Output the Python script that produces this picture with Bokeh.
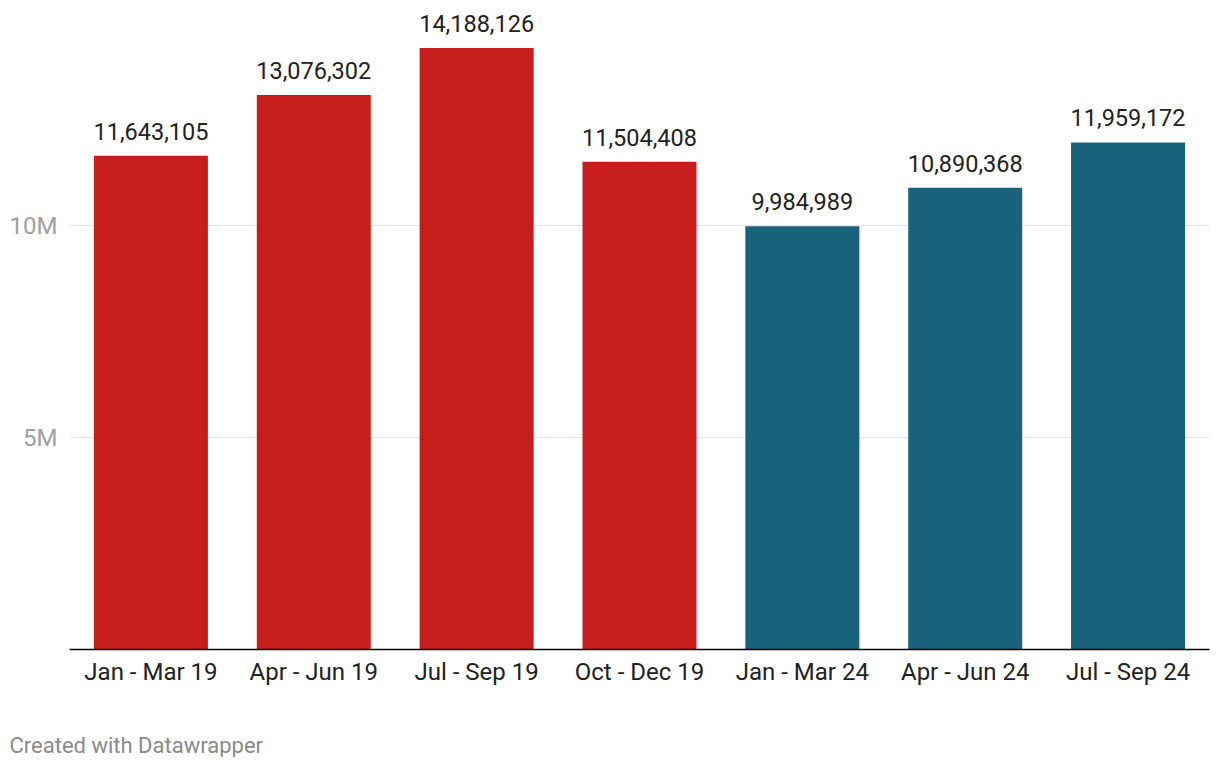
from bokeh.plotting import figure
from bokeh.models import ColumnDataSource, FixedTicker, Range1d, FactorRange, Title, LabelSet
from bokeh.core.properties import value
from bokeh.embed import file_html
from bokeh.resources import INLINE

categories = ["Jan - Mar 19", "Apr - Jun 19", "Jul - Sep 19", "Oct - Dec 19",
              "Jan - Mar 24", "Apr - Jun 24", "Jul - Sep 24"]
values = [11643105, 13076302, 14188126, 11504408, 9984989, 10890368, 11959172]
y_ticks = [5000000, 10000000]
y_tick_labels = ["5M", "10M"]
RED = "#c71e1d"
BLUE = "#18627b"
colors = [RED, RED, RED, RED, BLUE, BLUE, BLUE]

source = ColumnDataSource(dict(
    cat=categories,
    val=values,
    color=colors,
    label=[f"{v:,}" for v in values],
))

FONT = "Roboto"

p = figure(
    frame_width=1140, frame_height=639,
    x_range=FactorRange(*categories, range_padding=0),
    y_range=Range1d(0, 15.071e6),
    output_backend="svg", toolbar_location=None,
    min_border_left=69, min_border_right=2, min_border_top=10, min_border_bottom=0,
)
p.outline_line_color = None
p.background_fill_color = "white"
p.border_fill_color = "white"

p.vbar(x="cat", top="val", width=0.7, color="color", source=source, line_color=None)

labels = LabelSet(x="cat", y="val", text="label", source=source,
                  text_align="center", text_baseline="bottom", y_offset=16,
                  text_font=value(FONT), text_font_size="23.5px", text_color="#222222")
p.add_layout(labels)

# x axis
p.xaxis.axis_line_color = "#000000"
p.xaxis.axis_line_width = 1.5
p.xaxis.major_tick_line_color = None
p.xaxis.minor_tick_line_color = None
p.xaxis.major_label_standoff = 2
p.xaxis.major_label_text_font = FONT
p.xaxis.major_label_text_font_size = "24px"
p.xaxis.major_label_text_color = "#222222"
p.xgrid.grid_line_color = None

# y axis
p.yaxis.ticker = FixedTicker(ticks=y_ticks)
p.yaxis.major_label_overrides = {t: l for t, l in zip(y_ticks, y_tick_labels)}
p.yaxis.axis_line_color = None
p.yaxis.major_tick_line_color = None
p.yaxis.minor_tick_line_color = None
p.yaxis.major_label_standoff = 6
p.yaxis.major_label_text_font = FONT
p.yaxis.major_label_text_font_size = "24px"
p.yaxis.major_label_text_color = "#a0a0a0"
p.ygrid.ticker = FixedTicker(ticks=y_ticks)
p.ygrid.grid_line_color = "#e3e3e3"
p.ygrid.grid_line_width = 1

# spacer between axis labels and footer (keeps page height within the window)
spacer = Title(text=" ", text_font_size="1px", standoff=39, vertical_align="bottom")
p.add_layout(spacer, "below")

footer = Title(text="Created with Datawrapper", align="left", offset=-60,
               vertical_align="bottom",
               text_font=FONT, text_font_size="22px", text_font_style="normal",
               text_color="#8a8a8a", standoff=0)
p.add_layout(footer, "below")

open("out.html", "w").write(file_html(p, INLINE))
